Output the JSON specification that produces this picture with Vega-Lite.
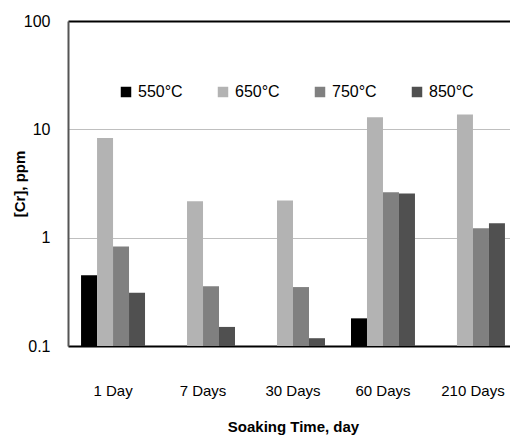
{
  "$schema": "https://vega.github.io/schema/vega-lite/v6.json",
  "autosize": "none",
  "width": 442,
  "height": 325,
  "padding": {"left": 68, "top": 21, "right": 0, "bottom": 93},
  "config": {
    "font": "Liberation Sans",
    "view": {"stroke": null},
    "background": "white"
  },
  "data": {
    "values": [
      {"time": "1 Day", "temp": "550°C", "cr": 0.45},
      {"time": "1 Day", "temp": "650°C", "cr": 8.3},
      {"time": "1 Day", "temp": "750°C", "cr": 0.83},
      {"time": "1 Day", "temp": "850°C", "cr": 0.31},
      {"time": "7 Days", "temp": "650°C", "cr": 2.17},
      {"time": "7 Days", "temp": "750°C", "cr": 0.357},
      {"time": "7 Days", "temp": "850°C", "cr": 0.15},
      {"time": "30 Days", "temp": "650°C", "cr": 2.2},
      {"time": "30 Days", "temp": "750°C", "cr": 0.35},
      {"time": "30 Days", "temp": "850°C", "cr": 0.118},
      {"time": "60 Days", "temp": "550°C", "cr": 0.18},
      {"time": "60 Days", "temp": "650°C", "cr": 12.9},
      {"time": "60 Days", "temp": "750°C", "cr": 2.62},
      {"time": "60 Days", "temp": "850°C", "cr": 2.55},
      {"time": "210 Days", "temp": "650°C", "cr": 13.7},
      {"time": "210 Days", "temp": "750°C", "cr": 1.22},
      {"time": "210 Days", "temp": "850°C", "cr": 1.36}
    ]
  },
  "mark": {"type": "bar"},
  "encoding": {
    "x": {
      "field": "time",
      "type": "nominal",
      "sort": ["1 Day", "7 Days", "30 Days", "60 Days", "210 Days"],
      "scale": {"range": [0, 450], "paddingInner": 0.289, "paddingOuter": 0.145},
      "axis": {
        "title": "Soaking Time, day",
        "titleFontSize": 15,
        "titleFontWeight": "bold",
        "titleColor": "#000000",
        "titlePadding": 21,
        "labelFontSize": 15,
        "labelColor": "#000000",
        "labelAngle": 0,
        "labelPadding": 37,
        "ticks": false,
        "domainColor": "#000000",
        "domainWidth": 2
      }
    },
    "xOffset": {
      "field": "temp",
      "type": "nominal",
      "scale": {"paddingInner": 0, "paddingOuter": 0}
    },
    "y": {
      "field": "cr",
      "type": "quantitative",
      "stack": null,
      "scale": {"type": "log", "domain": [0.1, 100], "nice": false},
      "axis": {
        "title": "[Cr], ppm",
        "titleFontSize": 15,
        "titleFontWeight": "bold",
        "titleColor": "#000000",
        "titlePadding": -4,
        "values": [0.1, 1, 10, 100],
        "format": "~g",
        "labelFontSize": 16,
        "labelColor": "#000000",
        "labelPadding": 18,
        "ticks": false,
        "domainColor": "#555555",
        "domainWidth": 2,
        "grid": true,
        "gridColor": {"condition": {"test": "datum.value === 100", "value": "#000000"}, "value": "#bfbfbf"},
        "gridWidth": {"condition": {"test": "datum.value === 100", "value": 2}, "value": 1}
      }
    },
    "y2": {"datum": 0.1},
    "color": {
      "field": "temp",
      "type": "nominal",
      "scale": {
        "domain": ["550°C", "650°C", "750°C", "850°C"],
        "range": ["#000000", "#b3b3b3", "#808080", "#505050"]
      },
      "legend": {
        "title": null,
        "orient": "none",
        "direction": "horizontal",
        "legendX": 50,
        "legendY": 63,
        "symbolType": "square",
        "symbolSize": 110,
        "symbolStrokeWidth": 0,
        "labelFontSize": 16,
        "labelColor": "#000000",
        "labelOffset": 4,
        "columnPadding": 32
      }
    }
  }
}
